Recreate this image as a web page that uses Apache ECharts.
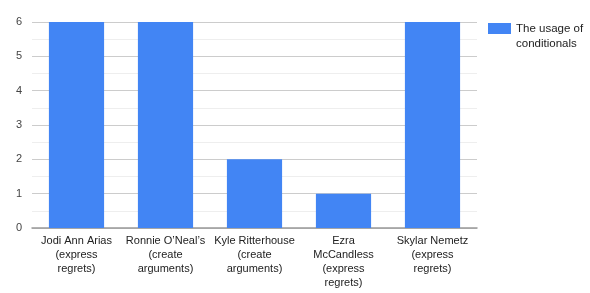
<!DOCTYPE html>
<html>
<head>
<meta charset="utf-8">
<script src="https://cdn.jsdelivr.net/npm/echarts@6/dist/echarts.min.js"></script>
<style>
  html, body { margin: 0; padding: 0; background: #fff; }
  #chart { width: 590px; height: 293px; }
</style>
</head>
<body>
<div id="chart"></div>
<script>
var categories = [
  'Jodi Ann Arias\n(express\nregrets)',
  'Ronnie O\u2019Neal\u2019s\n(create\narguments)',
  'Kyle Ritterhouse\n(create\narguments)',
  'Ezra\nMcCandless\n(express\nregrets)',
  'Skylar Nemetz\n(express\nregrets)'
];
var usageValues = [6, 6, 2, 1, 6];
var seriesName = 'The usage of conditionals';

var myChart = echarts.init(document.getElementById('chart'));

var option = {
  animation: false,
  textStyle: { fontFamily: '"Liberation Sans", Arial, sans-serif' },
  grid: { left: 32, right: 113, top: 22, bottom: 65 },
  legend: {
    left: 488,
    top: 6,
    padding: 0,
    orient: 'vertical',
    itemWidth: 23,
    itemHeight: 11,
    icon: 'rect',
    // blank first line so the swatch lines up with "The usage of"
    formatter: function () { return ' \nThe usage of\nconditionals'; },
    textStyle: { fontSize: 11.5, color: '#222', lineHeight: 15 },
    data: [seriesName]
  },
  xAxis: {
    type: 'category',
    data: categories,
    axisTick: { show: false },
    axisLine: { lineStyle: { color: '#999', width: 1.5 } },
    axisLabel: { color: '#222', fontSize: 11, lineHeight: 14, margin: 6, interval: 0 }
  },
  yAxis: {
    type: 'value',
    min: 0,
    max: 6,
    interval: 1,
    axisLine: { show: false },
    axisTick: { show: false },
    axisLabel: { color: '#444', fontSize: 11, margin: 10 },
    splitLine: { lineStyle: { color: '#ccc' } },
    minorTick: { show: false, splitNumber: 2 },
    minorSplitLine: { show: true, lineStyle: { color: '#eee' } }
  },
  series: [{
    name: seriesName,
    type: 'bar',
    data: usageValues,
    barWidth: '62%',
    itemStyle: { color: '#4285F4' }
  }]
};

myChart.setOption(option);
</script>
</body>
</html>
